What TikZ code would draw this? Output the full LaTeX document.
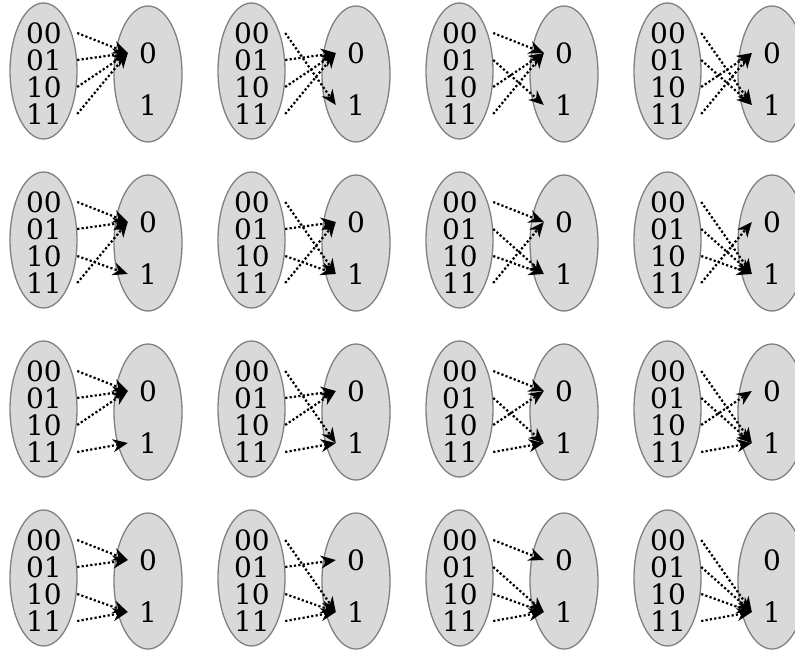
\documentclass[tikz,border=0pt]{standalone}
\usepackage{fontspec}
\setmainfont{DejaVu Serif}
\usetikzlibrary{arrows.meta}
\tikzset{
  setellipse/.style={draw=black!50, fill=black!15, line width=1.3pt},
  inlabel/.style={inner sep=0pt, minimum width=66pt, font=\fontsize{28}{28}\selectfont},
  outlabel/.style={inner sep=0pt, minimum width=40pt, font=\fontsize{28}{28}\selectfont},
  maparrow/.style={line width=2.2pt, dash pattern=on 2.2pt off 2.2pt, -{Stealth[length=15pt,width=13pt]}}
}
\begin{document}
\begin{tikzpicture}[x=1pt,y=-1pt]
\useasboundingbox (0,0) rectangle (795,650);
\clip (0,0) rectangle (795,650);
\foreach \k in {0,...,15}{
  \pgfmathtruncatemacro{\c}{mod(\k,4)}
  \pgfmathtruncatemacro{\r}{div(\k,4)}
  \pgfmathtruncatemacro{\bA}{mod(\k,2)}
  \pgfmathtruncatemacro{\bB}{mod(div(\k,2),2)}
  \pgfmathtruncatemacro{\bC}{mod(div(\k,4),2)}
  \pgfmathtruncatemacro{\bD}{div(\k,8)}
  \begin{scope}[shift={(208*\c,169*\r)}]
    \draw[setellipse] (43.5,71) ellipse [x radius=33.5pt, y radius=68pt];
    \draw[setellipse] (148,74) ellipse [x radius=34pt, y radius=68pt];
    \node[inlabel] (a\k-0) at (44,33) {00};
    \node[inlabel] (a\k-1) at (44,60) {01};
    \node[inlabel] (a\k-2) at (44,87) {10};
    \node[inlabel] (a\k-3) at (44,114) {11};
    \node[outlabel] (b\k-0) at (148,53) {0};
    \node[outlabel] (b\k-1) at (148,105) {1};
    \draw[maparrow] (a\k-0.east) -- (b\k-\bA.west);
    \draw[maparrow] (a\k-1.east) -- (b\k-\bB.west);
    \draw[maparrow] (a\k-2.east) -- (b\k-\bC.west);
    \draw[maparrow] (a\k-3.east) -- (b\k-\bD.west);
  \end{scope}
}
\end{tikzpicture}
\end{document}
